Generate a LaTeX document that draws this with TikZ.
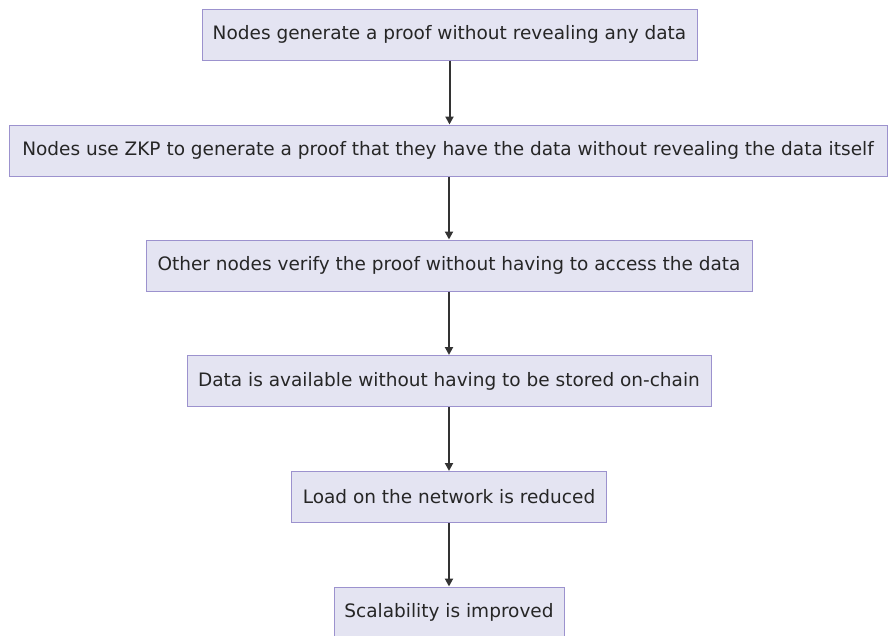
\documentclass[tikz,border=0pt]{standalone}
\usepackage{fontspec}
\setmainfont{DejaVu Sans}
\usetikzlibrary{arrows.meta}
\definecolor{boxfill}{HTML}{E4E4F2}
\definecolor{boxline}{HTML}{9C92CE}
\definecolor{arrowc}{HTML}{333333}
\tikzset{
  flowbox/.style={draw=boxline, fill=boxfill, line width=1pt, rectangle, minimum height=51pt, inner sep=0pt, font=\fontsize{18.5}{22}\selectfont, text=black!85},
  flowarrow/.style={draw=arrowc, line width=2pt, -{Triangle[length=8pt,width=8pt]}}
}
\begin{document}
\begin{tikzpicture}[x=1pt,y=-1pt]
\useasboundingbox (0,0) rectangle (889,635);
\clip (0,0) rectangle (889,635);
\node[flowbox, minimum width=495pt] (a) at (449.5,34.5) {Nodes generate a proof without revealing any data};
\node[flowbox, minimum width=878pt] (b) at (448,150.5) {Nodes use ZKP to generate a proof that they have the data without revealing the data itself};
\node[flowbox, minimum width=606pt] (c) at (449,265.5) {Other nodes verify the proof without having to access the data};
\node[flowbox, minimum width=524pt] (d) at (449,381) {Data is available without having to be stored on-chain};
\node[flowbox, minimum width=315pt] (e) at (449,497) {Load on the network is reduced};
\node[flowbox, minimum width=230pt] (f) at (449,612.5) {Scalability is improved};
\draw[flowarrow] (a.south) -- (a.south |- b.north);
\draw[flowarrow] (c.north |- b.south) -- (c.north);
\draw[flowarrow] (c.south) -- (d.north);
\draw[flowarrow] (d.south) -- (e.north);
\draw[flowarrow] (e.south) -- (f.north);
\end{tikzpicture}
\end{document}
